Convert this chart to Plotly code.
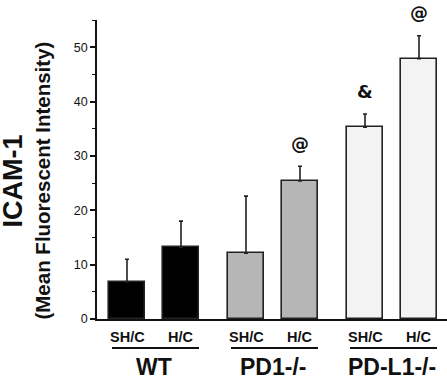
import plotly.graph_objects as go

groups = ["WT", "PD1-/-", "PD-L1-/-"]
conditions = ["SH/C", "H/C"]
means = [[6.8, 13.2], [12.1, 25.4], [35.3, 47.9]]
errors = [[4.2, 4.8], [10.5, 2.7], [2.4, 4.2]]
marks = [["", ""], ["", "@"], ["&", "@"]]
colors = ["#000000", "#b6b6b6", "#f3f3f3"]
y_ticks = [0, 10, 20, 30, 40, 50]

FONT = "Liberation Sans, Arial, sans-serif"
GROUP_GAP = 119
STEP = 54
OFFSET = 30
BAR_W = 36

fig = go.Figure()
for g, grp in enumerate(groups):
    xs = [OFFSET + g * GROUP_GAP + i * STEP for i in range(len(conditions))]
    fig.add_trace(go.Bar(
        x=xs, y=means[g], width=BAR_W,
        marker=dict(color=colors[g], line=dict(color="#222222", width=1.6)),
        error_y=dict(type="data", symmetric=False, array=errors[g],
                     arrayminus=[0] * len(conditions), color="#222222",
                     thickness=1.6, width=2),
        showlegend=False,
    ))
    for i, c in enumerate(conditions):
        fig.add_annotation(x=xs[i], y=-0.06, xref="x", yref="paper", text="<b>%s</b>" % c,
                           showarrow=False, font=dict(family=FONT, size=14.5, color="#111"),
                           xanchor="center", yanchor="middle")
        if marks[g][i]:
            fig.add_annotation(x=xs[i], y=means[g][i] + errors[g][i], xref="x", yref="y",
                               text="<b>%s</b>" % marks[g][i], showarrow=False,
                               yshift=23, xanchor="center", yanchor="middle",
                               font=dict(family="DejaVu Sans, sans-serif", size=18, color="#111"))
    fig.add_shape(type="line", xref="x", yref="paper",
                  x0=xs[0] - BAR_W / 2 + 3, x1=xs[-1] + BAR_W / 2,
                  y0=-0.097, y1=-0.097, line=dict(color="#111", width=2))
    fig.add_annotation(x=(xs[0] + xs[-1]) / 2, y=-0.162, xref="x", yref="paper",
                       text="<b>%s</b>" % grp, showarrow=False,
                       font=dict(family=FONT, size=23, color="#111"),
                       xanchor="center", yanchor="middle")

fig.add_annotation(x=0, xshift=-84, y=0.46, xref="paper", yref="paper", text="<b>ICAM-1</b>",
                   textangle=-90, showarrow=False, xanchor="center", yanchor="middle",
                   font=dict(family=FONT, size=27, color="#111"))
fig.add_annotation(x=0, xshift=-54, y=0.463, xref="paper", yref="paper",
                   text="<b>(Mean Fluorescent Intensity)</b>",
                   textangle=-90, showarrow=False, xanchor="center", yanchor="middle",
                   font=dict(family=FONT, size=20.5, color="#111"))

fig.update_layout(
    width=447, height=378,
    margin=dict(l=97, r=0, t=20, b=59),
    plot_bgcolor="white", paper_bgcolor="white",
    bargap=0,
    xaxis=dict(range=[0, 350], showline=True, linecolor="#111", linewidth=1.6,
               showticklabels=False, ticks="", showgrid=False, zeroline=False, fixedrange=True),
    yaxis=dict(range=[0, 55], showline=True, linecolor="#111", linewidth=1.6,
               tickvals=y_ticks, ticks="outside", ticklen=5, tickwidth=1.5, tickcolor="#111",
               minor=dict(dtick=5, ticks="outside", ticklen=3, tickwidth=1.3, tickcolor="#111"),
               tickfont=dict(family=FONT, size=12.5, color="#111"),
               tickprefix="<b>", ticksuffix="</b>",
               showgrid=False, zeroline=False),
    font=dict(family=FONT),
)

# remove the default 8px page margin so the figure fills the window exactly
fig.write_html("out.html", config={"displayModeBar": False},
               post_script="document.body.style.margin='0';document.body.style.overflow='hidden';")
